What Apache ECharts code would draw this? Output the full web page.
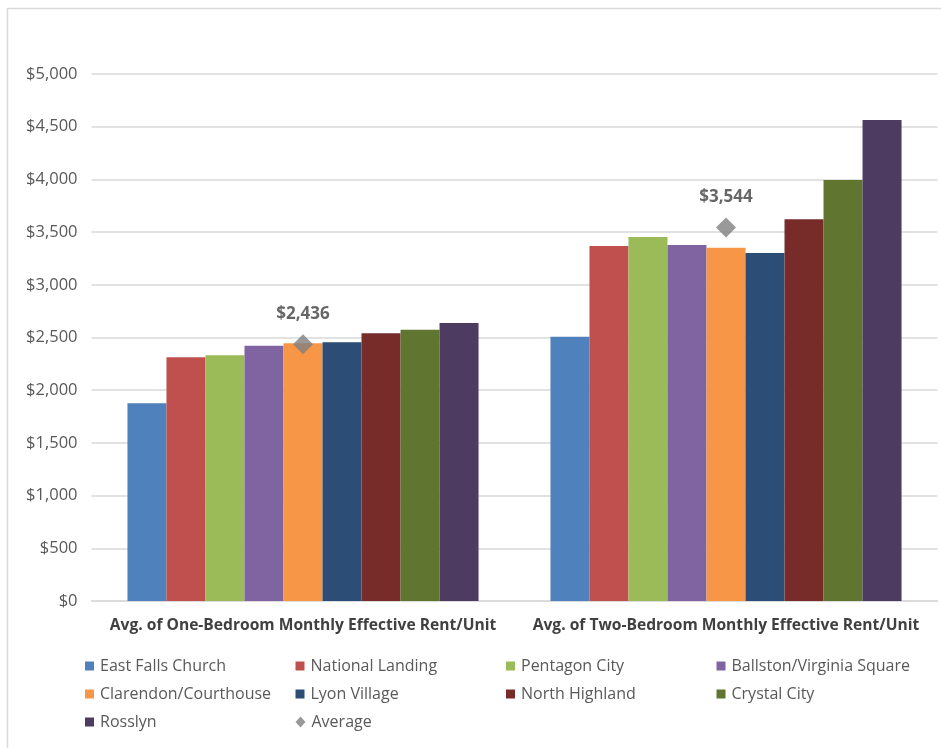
<!DOCTYPE html>
<html>
<head>
<meta charset="utf-8">
<script src="https://cdn.jsdelivr.net/npm/echarts@6/dist/echarts.min.js"></script>
<style>
html,body{margin:0;padding:0;background:#fff;}
#chart{width:941px;height:748px;}
</style>
</head>
<body>
<div id="chart"></div>
<script>
const categories = [
  'Avg. of One-Bedroom Monthly Effective Rent/Unit',
  'Avg. of Two-Bedroom Monthly Effective Rent/Unit'
];
const seriesNames = [
  'East Falls Church', 'National Landing', 'Pentagon City', 'Ballston/Virginia Square',
  'Clarendon/Courthouse', 'Lyon Village', 'North Highland', 'Crystal City', 'Rosslyn'
];
const seriesColors = [
  '#4f81bd', '#c0504d', '#9bbb59', '#8064a2',
  '#f79646', '#2c4d75', '#772c2a', '#5f7530', '#4d3b62'
];
const eastFallsChurch = [1876, 2508];
const nationalLanding = [2312, 3368];
const pentagonCity = [2331, 3454];
const ballston = [2422, 3378];
const clarendon = [2445, 3352];
const lyonVillage = [2454, 3302];
const northHighland = [2540, 3621];
const crystalCity = [2574, 3994];
const rosslyn = [2638, 4564];
const averageValues = [2436, 3544];
const seriesValues = [eastFallsChurch, nationalLanding, pentagonCity, ballston,
  clarendon, lyonVillage, northHighland, crystalCity, rosslyn];

const fontFamily = '"Open Sans", "Noto Sans", sans-serif';
const fmt = v => '$' + v.toLocaleString('en-US');

const series = seriesNames.map((name, i) => ({
  name: name,
  type: 'bar',
  data: seriesValues[i],
  barGap: '0%',
  barCategoryGap: '17%',
  itemStyle: { color: seriesColors[i] }
}));
series.push({
  name: 'Average',
  type: 'scatter',
  data: averageValues,
  symbol: 'diamond',
  symbolSize: [20, 20],
  itemStyle: { color: '#808080' },
  label: {
    show: true,
    position: 'top',
    distance: 12,
    formatter: p => fmt(p.value),
    color: '#404040',
    fontWeight: 'bold',
    fontSize: 17,
    fontFamily: fontFamily
  },
  z: 5
});

const legendNames = seriesNames.concat(['Average']);
const legends = legendNames.map((name, i) => ({
  data: [name === 'Average' ? { name: name, icon: 'diamond' } : { name: name, icon: 'rect' }],
  left: 85 + (i % 4) * 210.5,
  top: 658 + Math.floor(i / 4) * 28,
  itemWidth: name === 'Average' ? 10 : 9,
  itemHeight: name === 'Average' ? 11 : 9,
  itemGap: 0,
  padding: 0,
  textStyle: { color: '#595959', fontSize: 16, fontFamily: fontFamily, padding: [0, 0, 0, 1] },
  selectedMode: true
}));

const chart = echarts.init(document.getElementById('chart'), null, { renderer: 'canvas' });
chart.setOption({
  backgroundColor: '#fff',
  animation: false,
  graphic: [{
    type: 'rect',
    shape: { x: 7.5, y: 8.5, width: 1000, height: 1000 },
    style: { fill: 'none', stroke: '#d9d9d9', lineWidth: 1.5 },
    silent: true
  }],
  legend: legends,
  grid: { left: 91.5, right: 3.5, top: 74, bottom: 147, containLabel: false },
  xAxis: {
    type: 'category',
    data: categories,
    axisLine: { show: true, lineStyle: { color: '#d9d9d9', width: 1.5 } },
    axisTick: { show: false },
    axisLabel: {
      interval: 0,
      color: '#404040', fontWeight: 'bold', fontSize: 15.6, fontFamily: fontFamily, margin: 17
    }
  },
  yAxis: {
    type: 'value',
    min: 0,
    max: 5000,
    interval: 500,
    axisLine: { show: false },
    axisTick: { show: false },
    splitLine: { lineStyle: { color: '#d9d9d9', width: 1.5 } },
    axisLabel: { color: '#595959', fontSize: 16.5, fontFamily: fontFamily, margin: 14, formatter: fmt }
  },
  series: series
});
</script>
</body>
</html>
